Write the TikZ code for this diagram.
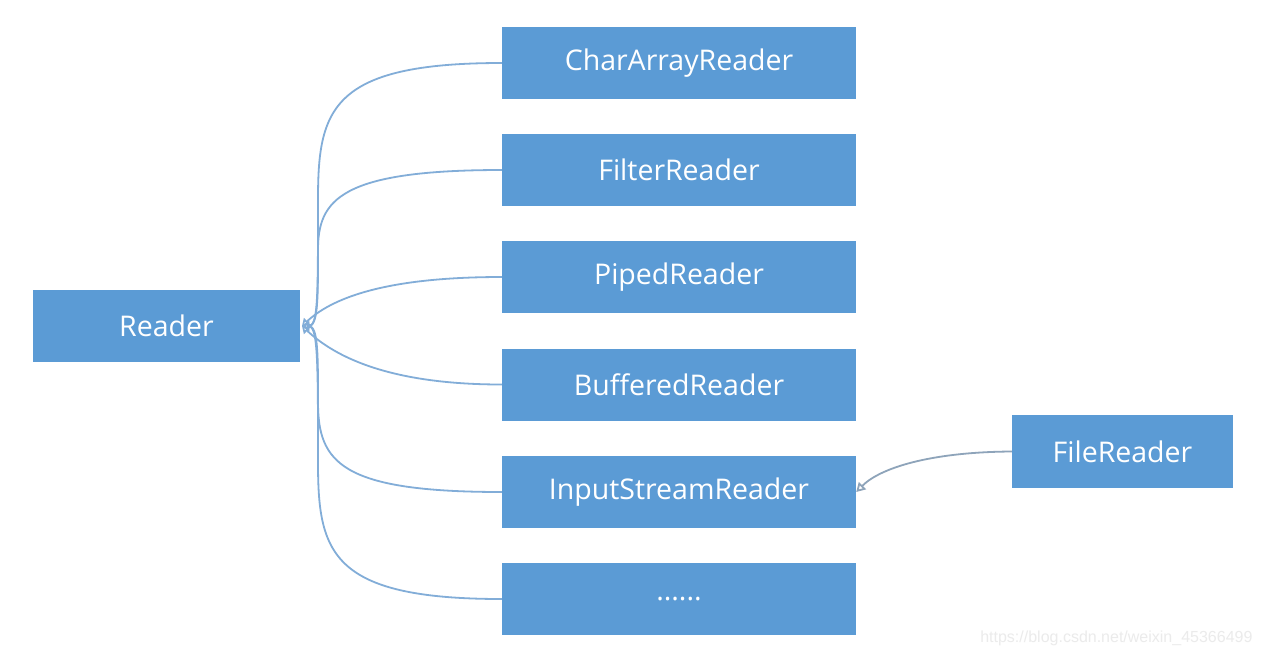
\documentclass[tikz,border=0pt]{standalone}
\usepackage{fontspec}
\setmainfont{Open Sans}
\newfontfamily\wmfont{Liberation Sans}
\usetikzlibrary{arrows.meta}
\definecolor{boxblue}{HTML}{5B9BD5}
\definecolor{linkblue}{HTML}{82ADD8}
\definecolor{linkgray}{HTML}{8EA4BA}
\begin{document}
\begin{tikzpicture}[x=1pt,y=-1pt,
  cls/.style={fill=boxblue,draw=none,text=white,font=\fontsize{28.5}{33}\selectfont,
    minimum width=354pt,minimum height=72pt,inner sep=0pt},
  link/.style={draw=linkblue,line width=1.8pt,-{Triangle[open,length=7pt,width=9pt]}},
  link2/.style={draw=linkgray,line width=1.8pt,-{Triangle[open,length=9pt,width=10pt]}}]
\useasboundingbox[fill=white] (0,0) rectangle (1263,657);
\node[cls,minimum width=267pt] (reader) at (166.5,326) {Reader};
\node[cls] (c1) at (679,63) {CharArrayReader};
\node[cls] (c2) at (679,170) {FilterReader};
\node[cls] (c3) at (679,277) {PipedReader};
\node[cls] (c4) at (679,384.5) {BufferedReader};
\node[cls] (c5) at (679,492) {InputStreamReader};
\node[cls] (c6) at (679,599) {......};
\node[cls,minimum width=221pt,minimum height=73pt] (file) at (1122.5,451.5) {FileReader};
\coordinate (tip) at (302,326);
\draw[link] (c1.west) .. controls (330,63) and (318,110) .. (318,200) .. controls (318,300) and (318,326) .. (tip);
\draw[link] (c2.west) .. controls (340,170) and (318,200) .. (318,250) .. controls (318,300) and (318,326) .. (tip);
\draw[link] (c3.west) .. controls (380,277) and (330,300) .. (tip);
\draw[link] (c4.west) .. controls (380,384.5) and (330,352) .. (tip);
\draw[link] (c5.west) .. controls (340,492) and (318,462) .. (318,402) .. controls (318,352) and (318,326) .. (tip);
\draw[link] (c6.west) .. controls (330,599) and (318,552) .. (318,462) .. controls (318,362) and (318,326) .. (tip);
\draw[link2] (file.west) .. controls (930,452) and (880,468) .. (c5.east);
\node[font=\wmfont\fontsize{16}{19}\selectfont,text=black!8,anchor=east] (wm) at (1256,638) {https://blog.csdn.net/weixin\_45366499};
\end{tikzpicture}
\end{document}
